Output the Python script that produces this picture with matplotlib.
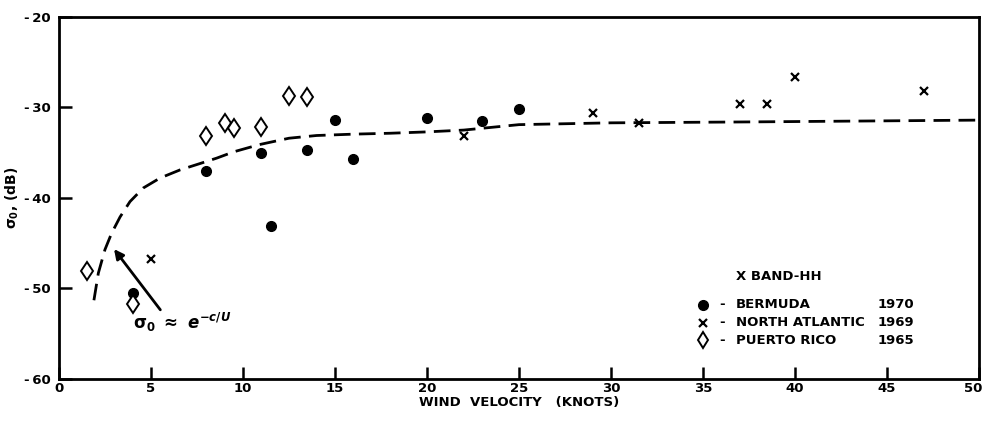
import matplotlib.pyplot as plt
import matplotlib.transforms as mtransforms

plt.rcParams['font.family'] = ['DejaVu Sans']
plt.rcParams['font.weight'] = 'bold'

# Bermuda 1970 (filled circles)
bermuda_u = [4, 8, 11, 11.5, 13.5, 15, 16, 20, 23, 25]
bermuda_s = [-50.5, -37.0, -35.0, -43.1, -34.7, -31.4, -35.7, -31.2, -31.5, -30.2]

# North Atlantic 1969 (x)
natl_u = [5, 22, 29, 31.5, 37, 38.5, 40, 47]
natl_s = [-46.7, -33.1, -30.6, -31.7, -29.6, -29.6, -26.6, -28.2]

# Puerto Rico 1965 (diamonds)
prico_u = [1.5, 4, 8, 9, 9.5, 11, 12.5, 13.5]
prico_s = [-48.1, -51.7, -33.1, -31.7, -32.3, -32.2, -28.7, -28.8]

# dashed fit curve
fit_u = [1.9, 2.14, 2.5, 2.86, 3.32, 3.86, 4.58, 5.49, 6.58, 7.66, 8.57, 9.5,
         10.9, 12.5, 14.0, 16.0, 18.0, 20.0, 22.0, 23.0, 25.0, 30.0, 37.4, 50.0]
fit_s = [-51.3, -48.3, -45.7, -43.9, -42.1, -40.4, -38.9, -37.8, -36.9, -36.2,
         -35.6, -34.9, -34.1, -33.4, -33.1, -32.95, -32.85, -32.7, -32.5, -32.3,
         -31.9, -31.7, -31.6, -31.4]

xticks = [0, 5, 10, 15, 20, 25, 30, 35, 40, 45, 50]
yticks = [-60, -50, -40, -30, -20]

fig = plt.figure(figsize=(9.86, 4.23), dpi=100)
ax = fig.add_axes([0.0598, 0.104, 0.9332, 0.856])

ax.plot(fit_u, fit_s, color='black', lw=2.0, ls=(0, (6, 3)))
ax.plot(bermuda_u, bermuda_s, 'o', color='black', ms=7)
ax.plot(natl_u, natl_s, 'x', color='black', ms=6, mew=1.6)
ax.plot(prico_u, prico_s, 'd', mfc='white', mec='black', ms=9.5, mew=1.4)

ax.set_xlim(0, 50)
ax.set_ylim(-60, -20)
ax.set_xticks(xticks)
ax.set_xticklabels([str(t) for t in xticks])
ax.set_yticks(yticks)
ax.set_yticklabels(['-\u2009' + str(-t) for t in yticks])
ax.tick_params(axis='both', direction='in', length=9, width=1.8, labelsize=9.5)
ax.tick_params(axis='y', pad=6)
ax.tick_params(axis='x', pad=2)
for sp in ax.spines.values():
    sp.set_linewidth(2)

# keep the last x label inside the figure
last = ax.get_xticklabels()[-1]
last.set_transform(last.get_transform() +
                   mtransforms.ScaledTranslation(-4 / 72, 0, fig.dpi_scale_trans))

ax.set_xlabel('WIND  VELOCITY   (KNOTS)', fontsize=9.5, fontweight='bold', labelpad=1)
ax.set_ylabel(r'$\mathbf{\sigma_0}$, (dB)', fontsize=10, fontweight='bold', labelpad=2)

# annotation
ax.annotate('', xy=(2.9, -45.4), xytext=(5.6, -52.6),
            arrowprops=dict(arrowstyle='-|>', color='black', lw=2, mutation_scale=14))
ax.text(4.0, -53.8, r'$\mathbf{\sigma_0}$ $\approx$ $e^{-c/U}$', fontsize=12,
        va='center', ha='left')

# legend block
ax.text(36.8, -48.7, 'X BAND-HH', fontsize=9.5, va='center')
rows = [('o', 'BERMUDA', '1970', -51.8),
        ('x', 'NORTH ATLANTIC', '1969', -53.8),
        ('d', 'PUERTO RICO', '1965', -55.7)]
for mk, name, yr, yy in rows:
    if mk == 'o':
        ax.plot([35], [yy], 'o', color='black', ms=7)
    elif mk == 'x':
        ax.plot([35], [yy], 'x', color='black', ms=6, mew=1.6)
    else:
        ax.plot([35], [yy], 'd', mfc='white', mec='black', ms=8.5, mew=1.4)
    ax.text(35.9, yy, '-', fontsize=9.5, va='center')
    ax.text(36.8, yy, name, fontsize=9.5, va='center')
    ax.text(44.5, yy, yr, fontsize=9.5, va='center')

fig.savefig('out.png', dpi=100)
